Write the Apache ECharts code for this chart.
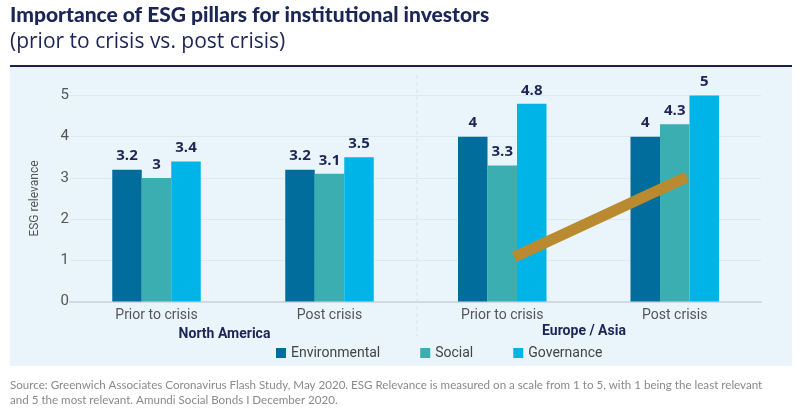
<!DOCTYPE html>
<html><head><meta charset="utf-8">
<script src="https://cdn.jsdelivr.net/npm/echarts@6/dist/echarts.min.js"></script>
<style>html,body{margin:0;padding:0;background:#fff}#c{width:800px;height:420px}</style>
</head><body><div id="c"></div>
<script>
const groupNames = ['North America', 'Europe / Asia'];
const periods = ['Prior to crisis', 'Post crisis'];
const seriesNames = ['Environmental', 'Social', 'Governance'];
const naEnvironmental = [3.2, 3.2];
const naSocial = [3, 3.1];
const naGovernance = [3.4, 3.5];
const euEnvironmental = [4, 4];
const euSocial = [3.3, 4.3];
const euGovernance = [4.8, 5];
const yTicks = [0, 1, 2, 3, 4, 5];
// trend arrow annotation in (category position, value) units for Europe / Asia panel
const arrowPath = [[0.57, 1.08], [1.57, 3.02]];

const colors = ['#006d9c', '#3aaeb0', '#00b4e8'];
const navy = '#1b2556';
const sans = 'Roboto';
const chart = echarts.init(document.getElementById('c'));

function barSeries(name, data, idx, color) {
  return {
    name: name, type: 'bar', xAxisIndex: idx, yAxisIndex: idx, data: data,
    barWidth: 29.5, barGap: '0%', itemStyle: { color: color },
    label: { show: true, position: 'top', distance: 6, color: navy,
      fontFamily: 'Open Sans', fontWeight: 'bold', fontSize: 15 }
  };
}

const yAxisBase = {
  type: 'value', min: yTicks[0], max: yTicks[yTicks.length - 1], interval: 1,
  axisLine: { show: false }, axisTick: { show: false },
  splitLine: { lineStyle: { color: '#dbe9f2', width: 1 } }
};
const xAxisBase = {
  type: 'category', axisTick: { show: false },
  axisLine: { lineStyle: { color: '#cfdbe4', width: 2 } },
  axisLabel: { color: '#555', fontFamily: sans, fontSize: 14, margin: 7 }
};

chart.setOption({
  animation: false,
  color: colors,
  graphic: [
    { type: 'rect', shape: { x: 10, y: 67, width: 782, height: 299 }, style: { fill: '#eaf5fb' }, z: -10 },
    { type: 'line', shape: { x1: 10, y1: 66, x2: 792, y2: 66 }, style: { stroke: '#1b1f4d', lineWidth: 2 } },
    { type: 'text', left: 10, top: 5, style: { text: 'Importance of ESG pillars for institutional investors',
      fill: navy, font: '900 21px Lato' } },
    { type: 'text', left: 10, top: 32, style: { text: '(prior to crisis vs. post crisis)',
      fill: navy, font: '21px "Open Sans"' } },
    { type: 'line', shape: { x1: 417, y1: 75, x2: 417, y2: 336 }, style: { stroke: '#d3e2ec', lineWidth: 1, lineDash: [4, 3] } },
    { type: 'text', x: 224.5, y: 334, style: { text: groupNames[0], fill: navy, align: 'center', verticalAlign: 'middle',
      font: 'bold 14px Roboto' } },
    { type: 'text', x: 584, y: 331, style: { text: groupNames[1], fill: navy, align: 'center', verticalAlign: 'middle',
      font: 'bold 14px Roboto' } },
    { type: 'text', left: 10, top: 378, style: { text:
      'Source: Greenwich Associates Coronavirus Flash Study, May 2020. ESG Relevance is measured on a scale from 1 to 5, with 1 being the least relevant\nand 5 the most relevant. Amundi Social Bonds I December 2020.',
      fill: '#8a8a8a', font: '11.6px Lato', lineHeight: 15 } }
  ],
  legend: {
    data: seriesNames, left: 271, top: 341, itemWidth: 10, itemHeight: 10, itemGap: 40,
    icon: 'rect', textStyle: { color: '#444', fontFamily: sans, fontSize: 14 }
  },
  grid: [
    { left: 70, width: 346, top: 95.5, height: 206 },
    { left: 416, width: 345, top: 95.5, height: 206 }
  ],
  xAxis: [
    Object.assign({}, xAxisBase, { gridIndex: 0, data: periods }),
    Object.assign({}, xAxisBase, { gridIndex: 1, data: periods }),
    { type: 'value', gridIndex: 1, min: 0, max: 2, show: false }
  ],
  yAxis: [
    Object.assign({}, yAxisBase, { gridIndex: 0, name: 'ESG relevance', nameLocation: 'middle', nameGap: 29,
      nameTextStyle: { color: '#555', fontFamily: sans, fontSize: 12 },
      axisLabel: { color: '#555', fontFamily: sans, fontSize: 15, margin: 1, padding: [0, 0, 7, 0] } }),
    Object.assign({}, yAxisBase, { gridIndex: 1, axisLabel: { show: false } })
  ],
  series: [
    barSeries(seriesNames[0], naEnvironmental, 0, colors[0]),
    barSeries(seriesNames[1], naSocial, 0, colors[1]),
    barSeries(seriesNames[2], naGovernance, 0, colors[2]),
    barSeries(seriesNames[0], euEnvironmental, 1, colors[0]),
    barSeries(seriesNames[1], euSocial, 1, colors[1]),
    barSeries(seriesNames[2], euGovernance, 1, colors[2]),
    { type: 'line', xAxisIndex: 2, yAxisIndex: 1, data: arrowPath, symbol: 'none', silent: true,
      lineStyle: { color: '#b98a30', width: 11, cap: 'butt' }, z: 5 }
  ]
});
</script></body></html>
